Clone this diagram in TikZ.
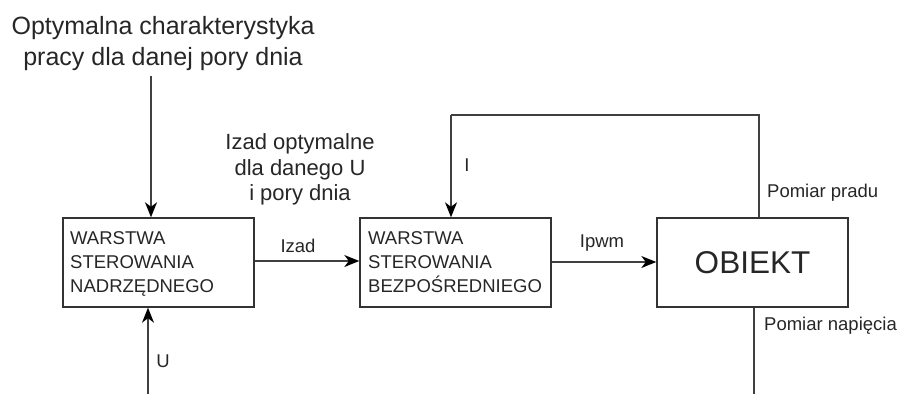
\documentclass[tikz,border=0pt]{standalone}
\usepackage{fontspec}
\setmainfont{Liberation Sans}
\usetikzlibrary{arrows.meta}
\begin{document}
\begin{tikzpicture}[x=1pt,y=-1pt,
  blk/.style={draw=black!80,line width=1.4pt,minimum width=191pt,minimum height=89pt,inner sep=0pt},
  conn/.style={draw=black!75,line width=1.4pt},
  arr/.style={conn,-{Stealth[length=15pt,width=12pt,inset=4.5pt,color=black]}},
  lbl/.style={inner sep=0pt,text=black!85,anchor=base},
  sm/.style={lbl,font=\fontsize{18.5}{22}\selectfont},
  btxt/.style={sm,anchor=base west}]
\useasboundingbox (0,0) rectangle (902,394);
\node[blk] (b1) at (158.5,262.5) {};
\node[blk] (b2) at (455.5,262.5) {};
\node[blk] (ob) at (752.5,262.5) {};
\node[btxt] (b1a) at (70,244) {WARSTWA};
\node[btxt] (b1b) at (70,268) {STEROWANIA};
\node[btxt] (b1c) at (70,292) {NADRZĘDNEGO};
\node[btxt] (b2a) at (368,244) {WARSTWA};
\node[btxt] (b2b) at (368,268) {STEROWANIA};
\node[btxt] (b2c) at (368,292) {BEZPOŚREDNIEGO};
\node[lbl,font=\fontsize{31.5}{36}\selectfont] (obt) at (752.5,273) {OBIEKT};
\node[lbl,font=\fontsize{25}{30}\selectfont] (t1) at (163,34) {Optymalna charakterystyka};
\node[lbl,font=\fontsize{25}{30}\selectfont] (t2) at (163,65) {pracy dla danej pory dnia};
\node[lbl,font=\fontsize{22}{26}\selectfont] (z1) at (300,149) {Izad optymalne};
\node[lbl,font=\fontsize{22}{26}\selectfont] (z2) at (300,175) {dla danego U};
\node[lbl,font=\fontsize{22}{26}\selectfont] (z3) at (300,200) {i pory dnia};
\coordinate (tin) at (151,76);
\coordinate (uin) at (148,394);
\coordinate (fb1) at (759,115);
\coordinate (fb2) at (451,115);
\coordinate (vout) at (754,394);
\draw[arr] (tin) -- (tin |- b1.north);
\draw[arr] (uin) -- (uin |- b1.south);
\draw[arr] (b1.east |- 0,261) -- (b2.west |- 0,261);
\draw[arr] (b2.east |- 0,262) -- (ob.west |- 0,262);
\draw[conn] (fb1 |- ob.north) -- (fb1) -- (fb2);
\draw[arr] (fb2) -- (fb2 |- b2.north);
\draw[conn] (vout |- ob.south) -- (vout);
\node[sm] (lz) at (298,252) {Izad};
\node[sm] (lp) at (602,247) {Ipwm};
\node[sm] (li) at (467,171) {I};
\node[sm] (lu) at (163,367) {U};
\node[sm,anchor=base west] (lpp) at (767,197) {Pomiar pradu};
\node[sm,anchor=base west] (lpn) at (764,330) {Pomiar napięcia};
\end{tikzpicture}
\end{document}
